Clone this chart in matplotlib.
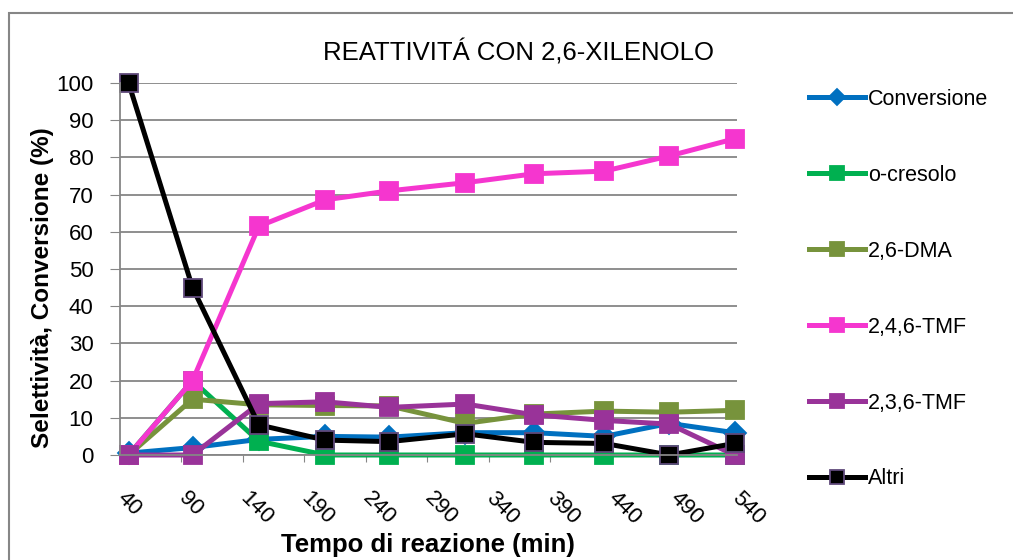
import matplotlib
matplotlib.use('Agg')
import matplotlib.pyplot as plt
from matplotlib.patches import Rectangle

plt.rcParams['font.family'] = ['Liberation Sans', 'DejaVu Sans']

# - Data
tempo = [47, 99, 153, 207, 259, 321, 377, 434, 487, 540]

conversione = [0.5, 2.0, 4.2, 5.0, 4.8, 6.0, 6.0, 5.0, 8.5, 6.0]
o_cresolo = [0.0, 20.0, 3.7, 0.0, 0.0, 0.0, 0.0, 0.0, 0.0, 0.0]
dma_26 = [0.0, 15.0, 13.5, 13.3, 13.2, 8.5, 11.0, 11.8, 11.5, 12.0]
tmf_246 = [0.0, 20.0, 61.5, 68.6, 71.0, 73.2, 75.6, 76.3, 80.4, 85.0]
tmf_236 = [0.0, 0.0, 13.8, 14.3, 12.8, 13.7, 10.8, 9.3, 8.3, 0.0]
altri = [100.0, 45.0, 8.1, 4.0, 3.6, 5.7, 3.4, 3.1, 0.0, 3.1]

x_ticks = list(range(40, 541, 50))
y_ticks = list(range(0, 101, 10))

series = [
    ('Conversione', conversione, '#0070C0', 'D', '#0070C0'),
    ('o-cresolo', o_cresolo, '#00B050', 's', '#00B050'),
    ('2,6-DMA', dma_26, '#77933C', 's', '#77933C'),
    ('2,4,6-TMF', tmf_246, '#F536CF', 's', '#F536CF'),
    ('2,3,6-TMF', tmf_236, '#993399', 's', '#993399'),
    ('Altri', altri, '#000000', 's', '#604A7B'),
]

fig = plt.figure(figsize=(10.13, 5.6), dpi=100)
ax = fig.add_axes([120 / 1013, 1 - 455 / 560, 617 / 1013, 372 / 560])

for name, vals, col, mk, edge in series:
    ax.plot(tempo, vals, color=col, lw=3.6, marker=mk,
            ms=11 if mk == 'D' else 13, mfc=col, mec=edge, mew=1.3,
            label=name, clip_on=False, solid_joinstyle='round')

ax.set_xlim(40, 542)
ax.set_ylim(0, 100)
ax.set_xticks(x_ticks)
ax.set_yticks(y_ticks)
ax.set_xticklabels([str(t) for t in x_ticks], rotation=-45, ha='left',
                   va='center', rotation_mode='anchor')
ax.tick_params(axis='x', labelsize=16, length=5, color='#868686', pad=24)
ax.tick_params(axis='y', labelsize=16, length=7, color='#868686', pad=12)

ax.grid(axis='y', color='#868686', lw=1.3)
ax.set_axisbelow(True)
for s in ('top', 'right'):
    ax.spines[s].set_visible(False)
for s in ('left', 'bottom'):
    ax.spines[s].set_color('#868686')
    ax.spines[s].set_linewidth(1.3)

fig.text(518 / 1013, 1 - 53 / 560, 'REATTIVITÁ CON 2,6-XILENOLO', fontsize=18.5,
         ha='center', va='center')
fig.text(43 / 1013, 1 - 288 / 560, 'Selettività, Conversione (%)', fontsize=17.5,
         fontweight='bold', rotation=90, ha='center', va='center')
fig.text(428 / 1013, 1 - 545 / 560, 'Tempo di reazione (min)', fontsize=18.5,
         fontweight='bold', ha='center', va='center')

fig.legend(loc='upper left', bbox_to_anchor=(809 / 1013, 1 - 89 / 560),
           frameon=False, fontsize=15.5, labelspacing=2.55, handlelength=2.6,
           handletextpad=0.15, borderpad=0, borderaxespad=0, markerscale=0.75)

# chart area border
fig.patches.append(Rectangle((9 / 1013, -0.1), 1.1, 1 - 13 / 560 + 0.1,
                             transform=fig.transFigure, fill=False,
                             ec='#868686', lw=1.5))

fig.savefig('out.png', dpi=100)
